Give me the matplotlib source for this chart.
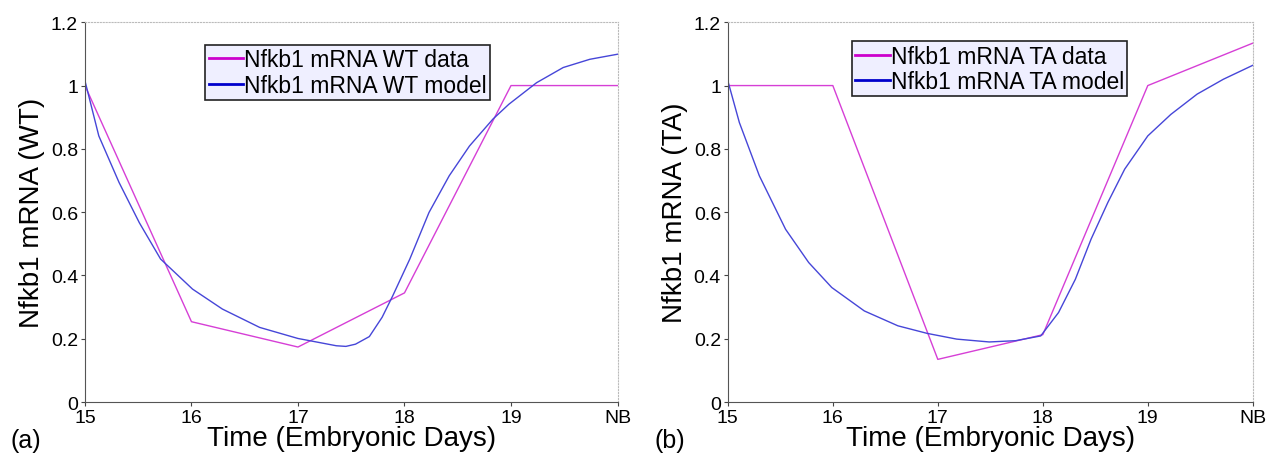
import matplotlib.pyplot as plt

plt.rcParams['font.family'] = ['Liberation Sans', 'DejaVu Sans']

# x positions: embryonic days, NB plotted at 20
days = [15, 16, 17, 18, 19, 20]
day_labels = ['15', '16', '17', '18', '19', 'NB']

wt_data = [1.0, 0.254, 0.174, 0.345, 1.0, 1.0]
wt_model_x = [15.0, 15.13, 15.32, 15.51, 15.71, 16.01, 16.29, 16.64, 17.0, 17.11,
              17.36, 17.45, 17.54, 17.67, 17.79, 17.89, 18.05, 18.23, 18.42, 18.61,
              18.83, 18.98, 19.24, 19.49, 19.74, 20.0]
wt_model_y = [1.015, 0.841, 0.694, 0.567, 0.452, 0.357, 0.294, 0.236, 0.201, 0.194,
              0.178, 0.176, 0.183, 0.207, 0.268, 0.336, 0.452, 0.599, 0.715, 0.809,
              0.894, 0.941, 1.009, 1.057, 1.083, 1.099]

ta_data = [1.0, 1.0, 0.135, 0.213, 1.0, 1.134]
ta_model_x = [15.0, 15.11, 15.30, 15.55, 15.77, 15.99, 16.30, 16.62, 16.90, 17.18,
              17.49, 17.74, 17.98, 18.15, 18.31, 18.46, 18.62, 18.78, 19.0, 19.22,
              19.47, 19.72, 20.0]
ta_model_y = [1.015, 0.883, 0.715, 0.546, 0.441, 0.362, 0.288, 0.241, 0.217, 0.199,
              0.190, 0.194, 0.209, 0.283, 0.388, 0.515, 0.631, 0.736, 0.841, 0.909,
              0.973, 1.020, 1.064]

data_col = '#d63fd6'
model_col = '#4646d8'

fig = plt.figure(figsize=(12.68, 4.56), dpi=100)
ax1 = fig.add_axes([0.067, 0.116, 0.420, 0.833])
ax2 = fig.add_axes([0.574, 0.116, 0.414, 0.833])

panels = [
    (ax1, wt_data, wt_model_x, wt_model_y, 'WT', '(a)', (0.226, 0.94)),
    (ax2, ta_data, ta_model_x, ta_model_y, 'TA', '(b)', (0.236, 0.95)),
]

for ax, d, mx, my, tag, letter, lpos in panels:
    ax.plot(days, d, color=data_col, lw=1.0, label='Nfkb1 mRNA %s data' % tag)
    ax.plot(mx, my, color=model_col, lw=1.0, label='Nfkb1 mRNA %s model' % tag)
    ax.set_xlim(15, 20)
    ax.set_ylim(0, 1.2)
    ax.set_xticks(days)
    ax.set_xticklabels(day_labels)
    ax.set_yticks([0, 0.2, 0.4, 0.6, 0.8, 1, 1.2])
    ax.set_yticklabels(['0', '0.2', '0.4', '0.6', '0.8', '1', '1.2'])
    ax.tick_params(labelsize=14, length=3, color='#444444', pad=2)
    for s in ['left', 'bottom']:
        ax.spines[s].set_color('#555555')
    for s in ['top', 'right']:
        ax.spines[s].set_color('#bbbbbb')
        ax.spines[s].set_linestyle(':')
        ax.spines[s].set_linewidth(0.8)
    ax.set_xlabel('Time (Embryonic Days)', fontsize=20, labelpad=-1)
    ax.set_ylabel('Nfkb1 mRNA (%s)' % tag, fontsize=20, labelpad=4)
    ax.text(-0.14, -0.10, letter, transform=ax.transAxes, fontsize=18, va='center')
    leg = ax.legend(loc='upper left', bbox_to_anchor=lpos, fontsize=16.5, frameon=True,
                    fancybox=False, handlelength=1.5, handletextpad=0.05,
                    borderpad=0.15, labelspacing=0.1, borderaxespad=0)
    leg.get_frame().set_facecolor('#efefff')
    leg.get_frame().set_edgecolor('#222222')
    leg.get_frame().set_alpha(1)
    leg.get_frame().set_linewidth(1.2)
    for h, c in zip(leg.get_lines(), ['#cc00cc', '#0000cc']):
        h.set_color(c)
        h.set_linewidth(2)

fig.savefig('out.png', dpi=100)
